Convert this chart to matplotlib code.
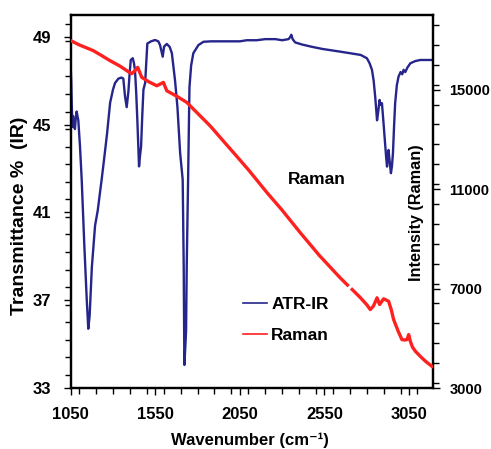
import numpy as np
import matplotlib
matplotlib.use("Agg")
import matplotlib.pyplot as plt
from matplotlib.ticker import MultipleLocator

# ATR-IR transmittance (%)
ir_wn = [1051, 1053, 1056, 1060, 1064, 1069, 1075, 1080, 1085, 1090, 1095, 1105, 1115, 1130,
         1145, 1154, 1162, 1175, 1194, 1210, 1223, 1233, 1250, 1265, 1283, 1300, 1312, 1332,
         1350, 1361, 1371, 1381, 1391, 1398, 1405, 1417, 1424, 1430, 1437, 1444, 1454, 1460,
         1466, 1473, 1480, 1490, 1503, 1525, 1549, 1568, 1578, 1594, 1602, 1618, 1635, 1648,
         1667, 1681, 1697, 1712, 1718, 1722, 1727, 1732, 1736, 1744, 1752, 1762, 1775, 1805,
         1835, 1880, 1950, 2012, 2050, 2091, 2150, 2200, 2260, 2300, 2338, 2348, 2354, 2362,
         2377, 2420, 2476, 2540, 2600, 2643, 2700, 2764, 2801, 2817, 2831, 2841, 2850, 2856,
         2861, 2868, 2876, 2881, 2890, 2900, 2910, 2915, 2920, 2925, 2929, 2936, 2943, 2949,
         2955, 2962, 2968, 2978, 2988, 3000, 3010, 3018, 3028, 3040, 3058, 3087, 3117, 3150, 3190]
ir_t = [47.4, 47.0, 46.0, 44.9, 45.4, 45.0, 44.8, 45.3, 45.6, 45.4, 45.2, 44.0, 42.5, 39.6,
        37.0, 35.7, 36.3, 38.5, 40.4, 41.1, 41.9, 42.5, 43.6, 44.6, 46.0, 46.6, 46.9, 47.1,
        47.15, 47.1, 46.3, 45.8, 46.5, 47.3, 47.95, 48.03, 47.8, 47.5, 46.5, 45.2, 43.1, 43.6,
        44.0, 45.4, 46.6, 46.9, 48.7, 48.8, 48.86, 48.8, 48.63, 48.1, 48.56, 48.68, 48.55, 48.26,
        47.0, 45.8, 43.7, 42.5, 38.6, 34.05, 34.8, 35.6, 38.6, 42.5, 46.7, 47.7, 48.26, 48.63,
        48.78, 48.8, 48.8, 48.8, 48.8, 48.85, 48.85, 48.9, 48.9, 48.85, 48.9, 49.0, 49.1, 48.9,
        48.75, 48.65, 48.55, 48.45, 48.38, 48.33, 48.26, 48.18, 48.03, 47.8, 47.5, 47.0, 46.28,
        45.7, 45.2, 45.6, 46.13, 45.9, 45.98, 45.0, 44.0, 43.5, 43.09, 43.5, 43.85, 43.3, 42.79,
        43.1, 43.7, 45.0, 45.98, 46.8, 47.19, 47.4, 47.3, 47.5, 47.4, 47.6, 47.8, 47.9, 47.95,
        47.95, 47.95]

# Raman intensity
ra_wn = [1050, 1100, 1184, 1230, 1283, 1340, 1391, 1410, 1430, 1446, 1470, 1510, 1559, 1598,
         1618, 1680, 1736, 1815, 1874, 1950, 2012, 2100, 2210, 2300, 2407, 2520, 2643, 2686,
         2690, 2714, 2760, 2800, 2821, 2840, 2861, 2876, 2900, 2929, 2945, 2959, 2985, 3008,
         3025, 3038, 3048, 3058, 3070, 3088, 3120, 3150, 3186]
ra_i = [16970, 16800, 16565, 16380, 16162, 15950, 15719, 15640, 15760, 15896, 15493, 15320,
        15154, 15290, 14953, 14720, 14486, 13946, 13543, 12950, 12470, 11780, 10860, 10150,
        9246, 8330, 7430, 7140, np.nan, 6960, 6650, 6350, 6155, 6300, 6627, 6357, 6587, 6490,
        6150, 5752, 5300, 4946, 4930, 4946, 5148, 4878, 4650, 4475, 4250, 4060, 3870]

xticks = [1050, 1550, 2050, 2550, 3050]
lyticks = [33, 37, 41, 45, 49]
ryticks = [3000, 7000, 11000, 15000]

plt.rcParams['font.family'] = ['Liberation Sans', 'DejaVu Sans']
plt.rcParams['font.weight'] = 'bold'

fig = plt.figure(figsize=(4.91, 4.49), dpi=100)
ax = fig.add_axes([70.7 / 491, 1 - 388 / 449, (432.7 - 70.7) / 491, (388 - 15) / 449])
ax2 = ax.twinx()

blue = '#25258c'
red = '#ff2020'
l1, = ax.plot(ir_wn, ir_t, color=blue, lw=1.7, label='ATR-IR', zorder=2)
l2, = ax2.plot(ra_wn, ra_i, color=red, lw=2.4, label='Raman', zorder=3)

ax.set_xlim(1050, 3190)
ax.set_ylim(33, 50)
ax2.set_ylim(3000, 18000)
ax.set_xticks(xticks)
ax.set_yticks(lyticks)
ax2.set_yticks(ryticks)
ax.xaxis.set_minor_locator(MultipleLocator(100))
ax.yaxis.set_minor_locator(MultipleLocator(0.8))
ax2.yaxis.set_minor_locator(MultipleLocator(800))

for a in (ax, ax2):
    for s in a.spines.values():
        s.set_linewidth(1.6)
ax.tick_params(axis='both', which='major', direction='out', length=5, width=1, labelsize=12)
ax.tick_params(axis='both', which='minor', direction='out', length=4, width=1)
ax.tick_params(axis='y', which='major', pad=9)
ax.tick_params(axis='x', which='major', pad=9)
ax2.tick_params(axis='y', which='major', direction='out', length=5, width=1, labelsize=10.5, pad=7)
ax2.tick_params(axis='y', which='minor', direction='out', length=4, width=1)

fig.text(249.5 / 491, 1 - 440 / 449, 'Wavenumber (cm\u207b\u00b9)', ha='center', va='center',
         fontsize=12, fontweight='bold')
ax.set_ylabel('Transmittance %  (IR)', fontsize=14, fontweight='bold')
ax.yaxis.set_label_coords(-(70.7 - 28) / 362, 0.461)
fig.text(416.5 / 491, 1 - 212.5 / 449, 'Intensity (Raman)', rotation=90, ha='center', va='center',
         fontsize=11.7, fontweight='bold')
fig.text(317 / 491, 1 - 180 / 449, 'Raman', ha='center', va='center', fontsize=12.5,
         fontweight='bold')

leg = ax.legend(handles=[l1, l2], loc='upper left', bbox_to_anchor=(165 / 362, (388 - 290) / 373),
                frameon=False, fontsize=12.5, handlelength=1.4, handletextpad=0.25,
                labelspacing=0.92, borderaxespad=0)
for h in leg.legend_handles:
    h.set_linewidth(1.2)

fig.savefig('out.png', dpi=100)
